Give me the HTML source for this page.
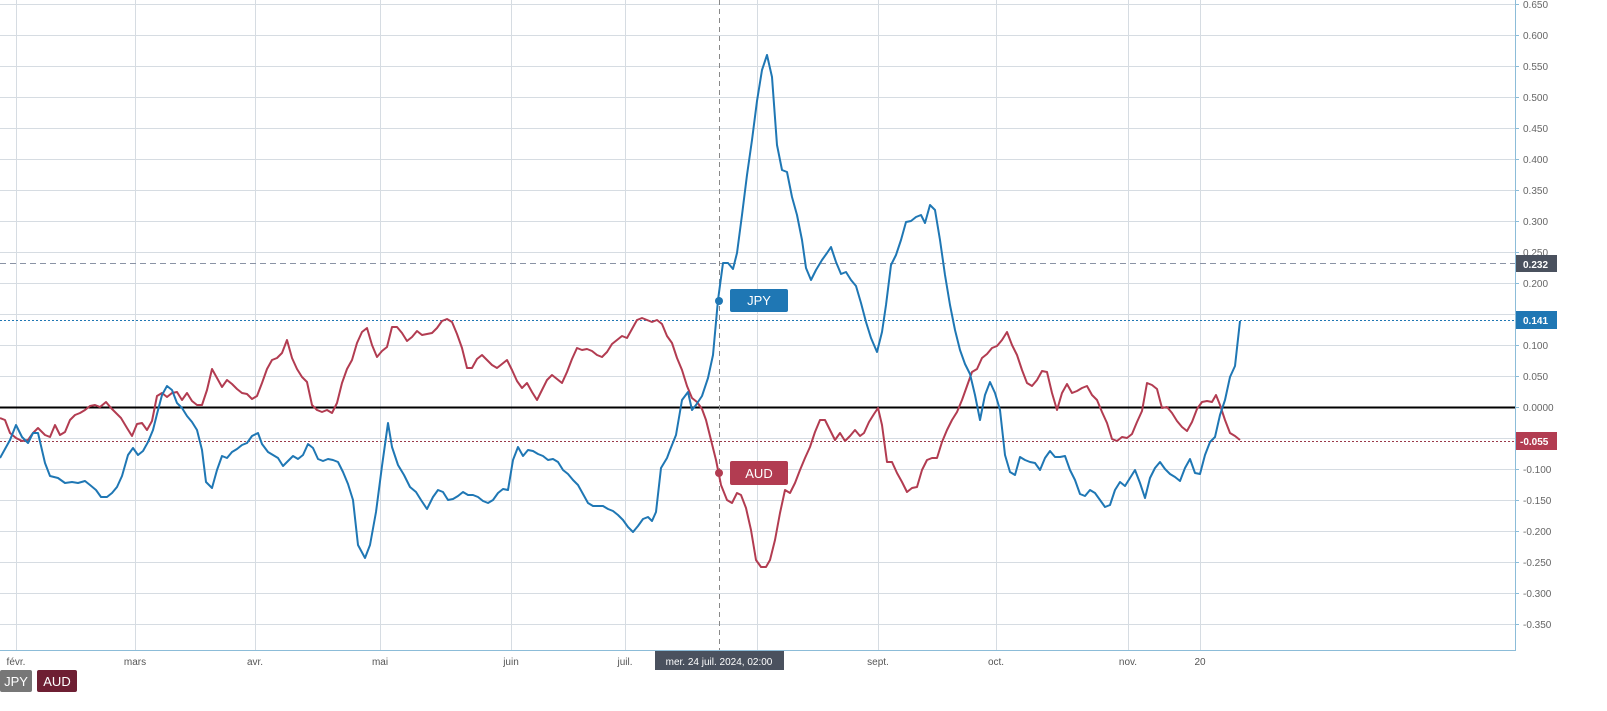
<!DOCTYPE html>
<html><head><meta charset="utf-8"><style>
html,body{margin:0;padding:0;background:#fff;}
svg{display:block;font-family:"Liberation Sans",sans-serif;}
</style></head><body>
<svg width="1607" height="711" viewBox="0 0 1607 711" xmlns="http://www.w3.org/2000/svg">
<g id="grid" stroke="#d6dce2" stroke-width="1"></g>
<g id="vgrid" stroke="#d6dce2" stroke-width="1">
<line x1="16.5" y1="0" x2="16.5" y2="650"/><line x1="135.5" y1="0" x2="135.5" y2="650"/>
<line x1="255.5" y1="0" x2="255.5" y2="650"/><line x1="380.5" y1="0" x2="380.5" y2="650"/>
<line x1="511.5" y1="0" x2="511.5" y2="650"/><line x1="625.5" y1="0" x2="625.5" y2="650"/>
<line x1="757.5" y1="0" x2="757.5" y2="650"/><line x1="878.5" y1="0" x2="878.5" y2="650"/>
<line x1="996.5" y1="0" x2="996.5" y2="650"/><line x1="1128.5" y1="0" x2="1128.5" y2="650"/>
<line x1="1200.5" y1="0" x2="1200.5" y2="650"/>
</g>
<g id="ylab" font-size="10" fill="#666"></g>
<line x1="1515.5" y1="0" x2="1515.5" y2="651" stroke="#8cbcd8"/>
<line x1="0" y1="650.5" x2="1515" y2="650.5" stroke="#8cbcd8"/>
<line x1="0" y1="407.5" x2="1515" y2="407.5" stroke="#000" stroke-width="2"/>
<line x1="0" y1="263.5" x2="1515" y2="263.5" stroke="#8a93a5" stroke-dasharray="6,4"/>
<line x1="0" y1="320.5" x2="1515" y2="320.5" stroke="#1f77b4" stroke-dasharray="2,2"/>
<line x1="0" y1="441.5" x2="1515" y2="441.5" stroke="#9a3a4a" stroke-dasharray="2,2"/>
<line x1="719.5" y1="0" x2="719.5" y2="650" stroke="#888" stroke-dasharray="5,4"/>
<polyline fill="none" stroke="#b23c51" stroke-width="2" stroke-linejoin="round" points="0,418 5,420 10,433 16,438 22,441 28,440 33,433 38,428 45,435 50,437 55,425 60,435 65,432 70,420 75,415 80,413 85,410 90,406 95,405 100,407 106,402 111,408 116,413 121,418 127,428 132,436 137,424 142,423 147,430 152,421 157,396 162,393 167,397 172,393 177,392 182,400 187,393 192,401 197,405 202,405 207,390 212,369 217,378 222,387 227,380 232,384 237,389 242,393 247,394 252,399 257,396 262,383 267,369 272,360 277,358 282,353 287,340 292,358 297,369 302,377 307,382 312,405 317,410 322,412 327,410 332,413 337,403 342,383 347,369 352,360 357,343 362,332 367,328 372,345 377,357 382,351 387,347 392,327 397,327 402,333 407,341 412,337 417,331 422,335 427,334 432,333 437,328 442,321 447,319 452,322 457,334 462,348 467,368 472,368 477,359 482,355 487,360 492,365 497,368 502,364 507,360 512,370 517,381 522,388 527,383 532,392 537,400 542,390 547,380 552,375 557,379 562,383 567,372 572,359 577,348 582,350 587,349 592,351 597,355 602,357 607,352 612,344 617,340 622,336 627,338 632,329 637,320 642,318 647,320 652,322 657,320 662,324 667,336 672,343 677,358 682,370 687,386 692,398 697,402 702,409 706,420 711,440 716,460 721,485 727,500 732,503 737,493 741,495 746,508 751,530 756,560 761,567 766,567 770,560 775,540 780,513 785,490 790,493 795,483 800,470 805,458 810,447 815,432 820,420 825,420 830,430 835,440 840,433 845,441 850,436 855,430 860,436 864,433 869,422 874,414 878,408 882,425 887,462 892,462 897,473 902,482 907,492 912,488 917,487 922,470 927,460 932,458 937,458 942,442 947,430 952,420 957,412 962,400 967,386 972,372 977,369 982,358 987,354 992,348 997,346 1002,340 1007,332 1012,345 1017,355 1022,370 1027,383 1032,386 1037,380 1042,371 1047,372 1052,393 1057,410 1062,393 1067,384 1072,393 1077,391 1082,388 1087,386 1092,395 1097,400 1102,412 1107,423 1112,439 1117,441 1122,437 1127,438 1132,434 1137,422 1142,411 1147,383 1152,385 1157,389 1162,408 1167,407 1172,413 1177,421 1182,427 1187,431 1192,422 1197,409 1202,402 1207,401 1212,402 1216,395 1220,405 1225,420 1230,433 1235,436 1240,440"/>
<polyline fill="none" stroke="#1f77b4" stroke-width="2" stroke-linejoin="round" points="0,458 10,440 16,425 22,437 28,443 33,433 38,433 45,463 50,476 58,478 65,483 72,482 78,483 85,481 90,485 96,490 101,497 107,497 112,493 117,487 122,476 128,455 133,448 138,455 143,451 148,442 153,430 157,414 162,395 167,386 172,390 177,403 182,408 187,416 192,422 197,430 202,450 206,482 212,488 217,470 222,456 227,458 232,452 237,449 242,445 247,443 252,436 258,433 262,444 268,452 273,455 278,458 283,466 288,461 293,456 298,459 303,455 308,444 313,448 318,459 323,461 328,459 333,460 338,462 343,472 348,484 353,500 358,545 365,558 370,545 376,512 382,466 388,423 392,447 398,465 404,475 410,487 416,492 421,500 427,509 433,497 438,490 443,492 448,500 453,499 458,496 463,492 468,495 473,495 478,497 483,501 488,503 493,500 498,493 503,489 508,490 513,460 518,447 523,456 528,450 533,451 538,454 543,456 548,460 553,459 558,462 563,470 568,474 573,480 578,485 583,494 588,503 593,506 598,506 603,506 608,509 613,511 618,515 623,520 628,527 633,532 638,526 643,519 648,517 652,521 656,512 661,468 667,458 670,450 676,435 682,400 688,392 692,410 696,405 702,396 708,378 713,355 718,300 723,263 728,263 733,269 737,253 742,215 747,175 752,140 757,101 762,70 767,55 772,77 777,145 782,170 787,172 792,197 797,215 802,240 806,268 811,280 816,270 822,260 827,253 831,247 836,262 841,274 846,272 851,280 856,286 861,303 866,322 871,338 877,352 882,332 886,305 891,265 896,255 901,240 906,222 911,221 916,217 921,215 925,223 930,205 935,210 940,240 945,275 950,305 955,330 960,350 965,364 970,374 975,395 980,420 985,395 990,382 995,393 1000,410 1005,455 1010,472 1015,475 1020,457 1025,460 1030,462 1035,463 1040,470 1045,458 1050,451 1055,457 1060,457 1065,456 1070,470 1075,480 1080,494 1085,496 1090,490 1095,493 1100,500 1105,507 1110,505 1115,490 1120,482 1125,486 1130,478 1135,470 1140,483 1145,498 1150,478 1155,468 1160,462 1165,469 1170,474 1175,477 1180,481 1185,468 1190,459 1195,473 1200,474 1205,455 1210,442 1215,437 1220,415 1225,400 1230,377 1235,366 1240,321"/>
<circle cx="719" cy="301" r="4" fill="#1f77b4"/>
<rect x="730" y="289" width="58" height="23" rx="2" fill="#1f77b4"/>
<text x="759" y="305" font-size="13" fill="#fff" text-anchor="middle">JPY</text>
<circle cx="719" cy="473" r="4" fill="#b23c51"/>
<rect x="730" y="461" width="58" height="24" rx="2" fill="#b23c51"/>
<text x="759" y="478" font-size="13" fill="#fff" text-anchor="middle">AUD</text>
<rect x="1516" y="255" width="41" height="17" fill="#4a515e"/>
<text x="1523" y="268" font-size="10" font-weight="bold" fill="#fff">0.232</text>
<rect x="1516" y="311" width="41" height="18" fill="#1f77b4"/>
<text x="1523" y="324" font-size="10" font-weight="bold" fill="#fff">0.141</text>
<rect x="1516" y="432" width="41" height="18" fill="#b23c51"/>
<text x="1520" y="445" font-size="10" font-weight="bold" fill="#fff">-0.055</text>
<g font-size="10" fill="#555" text-anchor="middle">
<text x="16" y="665">févr.</text><text x="135" y="665">mars</text><text x="255" y="665">avr.</text>
<text x="380" y="665">mai</text><text x="511" y="665">juin</text><text x="625" y="665">juil.</text>
<text x="878" y="665">sept.</text><text x="996" y="665">oct.</text><text x="1128" y="665">nov.</text><text x="1200" y="665">20</text>
</g>
<rect x="655" y="651" width="129" height="19" fill="#4a515e"/>
<text x="719" y="665" font-size="10" fill="#fff" text-anchor="middle">mer. 24 juil. 2024, 02:00</text>
<rect x="0" y="670" width="32" height="22" rx="2" fill="#777"/>
<text x="16" y="686" font-size="13" fill="#fff" text-anchor="middle">JPY</text>
<rect x="37" y="670" width="40" height="22" rx="2" fill="#6e1f33"/>
<text x="57" y="686" font-size="13" fill="#fff" text-anchor="middle">AUD</text>
<script>
(function(){
var g=document.getElementById('grid'),l=document.getElementById('ylab'),ns='http://www.w3.org/2000/svg';
for(var i=0;i<=20;i++){var v=0.65-i*0.05;var y=Math.round(407-v*620)+0.5;
var ln=document.createElementNS(ns,'line');ln.setAttribute('x1',0);ln.setAttribute('x2',1515);ln.setAttribute('y1',y);ln.setAttribute('y2',y);g.appendChild(ln);
var tk=document.createElementNS(ns,'line');tk.setAttribute('x1',1515);tk.setAttribute('x2',1519);tk.setAttribute('y1',y);tk.setAttribute('y2',y);tk.setAttribute('stroke','#8cbcd8');g.appendChild(tk);
var t=document.createElementNS(ns,'text');t.setAttribute('x',1523);t.setAttribute('y',y+3.5);
var s=Math.abs(v)<1e-9?'0.0000':v.toFixed(3);t.textContent=s;l.appendChild(t);}
})();
</script>
</svg>
</body></html>
